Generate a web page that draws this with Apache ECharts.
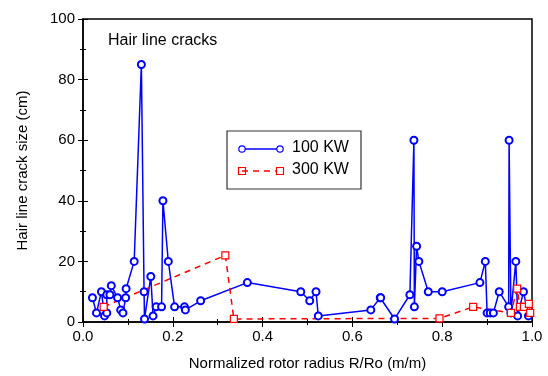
<!DOCTYPE html>
<html>
<head>
<meta charset="utf-8">
<script src="https://cdn.jsdelivr.net/npm/echarts@6/dist/echarts.min.js"></script>
<style>html,body{margin:0;padding:0;background:#fff}#c{width:548px;height:376px}</style>
</head>
<body>
<div id="c"></div>
<script>
// Series 1: 100 KW (x = normalized radius, y = crack size cm)
const kw100X = [0.021,0.030,0.041,0.048,0.053,0.053,0.060,0.063,0.077,0.084,0.089,0.095,0.096,0.114,0.130,0.136,0.137,0.151,0.156,0.163,0.175,0.178,0.190,0.204,0.226,0.228,0.262,0.366,0.485,0.505,0.519,0.524,0.641,0.662,0.663,0.694,0.728,0.737,0.738,0.743,0.748,0.769,0.800,0.884,0.896,0.900,0.907,0.914,0.927,0.948,0.949,0.953,0.964,0.968,0.981,0.992];
const kw100Y = [8,3,10,2,3,9,9,12,8,4,3,8,11,20,85,10,1,15,2,5,5,40,20,5,5,4,7,13,10,7,10,2,4,8,8,1,9,60,5,25,20,10,10,13,20,3,3,3,10,5,60,3,20,2,10,2];
// Series 2: 300 KW
const kw300X = [0.046,0.317,0.336,0.794,0.869,0.953,0.967,0.973,0.982,0.993,0.996];
const kw300Y = [5,22,1,1.2,5,3,11,5,5,6,3];
const xTicks = [0,0.2,0.4,0.6,0.8,1.0];
const yTicks = [0,20,40,60,80,100];

const blue = '#0000ff', red = '#ff0000';
const font = 'Liberation Sans, Arial, sans-serif';
const chart = echarts.init(document.getElementById('c'));
const tickCommon = {show:true, inside:true, length:5, lineStyle:{color:'#000', width:1}};
const minorCommon = {show:true, splitNumber:2, length:3, lineStyle:{color:'#000', width:1}};
chart.setOption({
  animation:false,
  backgroundColor:'#fff',
  grid:{left:83, right:16, top:19, bottom:52, show:true, borderColor:'#000', borderWidth:1.5, backgroundColor:'transparent'},
  xAxis:[{
    type:'value', min:0, max:1, interval:0.2, position:'bottom',
    name:'Normalized rotor radius R/Ro (m/m)', nameLocation:'middle', nameGap:34,
    nameTextStyle:{fontFamily:font, fontSize:15, color:'#000'},
    axisLine:{show:true, onZero:false, lineStyle:{color:'#000', width:1.5}},
    axisTick:tickCommon, minorTick:minorCommon, splitLine:{show:false},
    axisLabel:{fontFamily:font, fontSize:15, color:'#000', margin:7,
      formatter:v=>{const t=xTicks.find(k=>Math.abs(k-v)<1e-6);return t===undefined?'':t.toFixed(1);}}
  },{
    type:'value', min:0, max:1, interval:0.2, position:'top',
    axisLine:{show:false}, axisTick:tickCommon, minorTick:minorCommon,
    axisLabel:{show:false}, splitLine:{show:false}
  }],
  yAxis:[{
    type:'value', min:0, max:100, interval:20, position:'left',
    name:'Hair line crack size (cm)', nameLocation:'middle', nameGap:53, nameRotate:90,
    nameTextStyle:{fontFamily:font, fontSize:15, color:'#000'},
    axisLine:{show:true, onZero:false, lineStyle:{color:'#000', width:1.5}},
    axisTick:tickCommon, minorTick:minorCommon, splitLine:{show:false},
    axisLabel:{fontFamily:font, fontSize:15, color:'#000', margin:8,
      formatter:v=>yTicks.includes(v)?String(v):''}
  },{
    type:'value', min:0, max:100, interval:20, position:'right',
    axisLine:{show:false}, axisTick:tickCommon, minorTick:minorCommon,
    axisLabel:{show:false}, splitLine:{show:false}
  }],
  series:[{
    name:'100 KW', type:'line', xAxisIndex:0, yAxisIndex:0,
    data:kw100X.map((x,i)=>[x,kw100Y[i]]),
    symbol:'emptyCircle', symbolSize:7, showAllSymbol:true,
    lineStyle:{color:blue, width:1.5}, itemStyle:{color:blue, borderColor:blue, borderWidth:1.2}
  },{
    name:'300 KW', type:'line', xAxisIndex:0, yAxisIndex:0,
    data:kw300X.map((x,i)=>[x,kw300Y[i]]),
    symbol:'rect', symbolSize:7, showAllSymbol:true,
    lineStyle:{color:red, width:1.5, type:[6,5]},
    itemStyle:{color:'#fff', borderColor:red, borderWidth:1.2}
  }],
  graphic:[
    {type:'text', left:108, top:33, style:{text:'Hair line cracks', font:'16px '+font, fill:'#000'}},
    {type:'rect', shape:{x:227, y:131, width:134, height:58}, style:{fill:'#fff', stroke:'#333', lineWidth:1.2}},
    {type:'line', shape:{x1:242, y1:149, x2:280, y2:149}, style:{stroke:blue, lineWidth:1.5}},
    {type:'circle', shape:{cx:242, cy:149, r:3.2}, style:{fill:'#fff', stroke:blue, lineWidth:1.2}},
    {type:'circle', shape:{cx:280, cy:149, r:3.2}, style:{fill:'#fff', stroke:blue, lineWidth:1.2}},
    {type:'text', left:292, top:140, style:{text:'100 KW', font:'16px '+font, fill:'#000'}},
    {type:'line', shape:{x1:242, y1:171, x2:280, y2:171}, style:{stroke:red, lineWidth:1.5, lineDash:[6,5]}},
    {type:'rect', shape:{x:238.5, y:167.5, width:7, height:7}, style:{fill:'none', stroke:red, lineWidth:1.2}},
    {type:'rect', shape:{x:276.5, y:167.5, width:7, height:7}, style:{fill:'#fff', stroke:red, lineWidth:1.2}},
    {type:'text', left:292, top:162, style:{text:'300 KW', font:'16px '+font, fill:'#000'}}
  ]
});
</script>
</body>
</html>
